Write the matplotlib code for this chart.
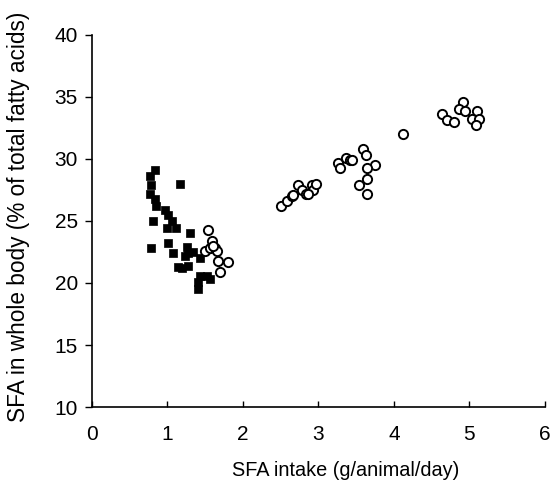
import matplotlib
matplotlib.use("Agg")
import matplotlib.pyplot as plt

plt.rcParams['font.family'] = ['Liberation Sans', 'DejaVu Sans']

# Filled squares (low intake group)
sq_x = [0.84, 0.77, 0.79, 0.77, 0.84, 1.17, 0.97, 1.01, 1.06, 1.12, 0.99, 0.81,
        1.30, 1.01, 1.08, 0.78, 1.26, 1.27, 1.34, 1.23, 1.43, 1.14, 1.27, 1.43,
        1.52, 1.41, 1.41, 1.56, 0.85, 1.20]
sq_y = [29.1, 28.6, 27.9, 27.2, 26.8, 28.0, 25.9, 25.5, 25.0, 24.4, 24.4, 25.0,
        24.0, 23.2, 22.4, 22.8, 22.9, 22.4, 22.5, 22.2, 22.0, 21.3, 21.4, 20.6,
        20.6, 20.1, 19.5, 20.3, 26.2, 21.2]

# Open circles
ci_x = [1.54, 1.59, 1.50, 1.56, 1.63, 1.66, 1.67, 1.80, 1.70, 1.61,
        2.51, 2.58, 2.65, 2.73, 2.78, 2.83, 2.91, 2.93, 2.97, 2.67, 2.86,
        3.26, 3.28, 3.36, 3.42, 3.45, 3.59, 3.63, 3.75, 3.65, 3.65, 3.54, 3.65,
        4.12, 4.63, 4.70, 4.80, 4.91, 4.86, 4.94, 5.10, 5.04, 5.12, 5.09]
ci_y = [24.3, 23.4, 22.6, 22.8, 22.8, 22.6, 21.8, 21.7, 20.9, 23.0,
        26.2, 26.6, 27.0, 27.9, 27.5, 27.2, 27.9, 27.5, 28.0, 27.1, 27.2,
        29.7, 29.3, 30.1, 29.9, 29.9, 30.8, 30.3, 29.5, 29.3, 28.4, 27.9, 27.2,
        32.0, 33.6, 33.1, 33.0, 34.6, 34.0, 33.9, 33.9, 33.2, 33.2, 32.7]

x_ticks = [0, 1, 2, 3, 4, 5, 6]
y_ticks = [10, 15, 20, 25, 30, 35, 40]

fig = plt.figure(figsize=(5.53, 4.91), dpi=100)
ax = fig.add_axes([0.166, 0.171, 0.8195, 0.758])

ax.scatter(sq_x, sq_y, marker='s', s=40, c='black', edgecolors='black', linewidths=0.5, zorder=3)
ax.scatter(ci_x, ci_y, marker='o', s=44, facecolors='white', edgecolors='black', linewidths=1.4, zorder=4)

ax.set_xlim(0, 6)
ax.set_ylim(10, 40)
ax.set_xticks(x_ticks)
ax.set_yticks(y_ticks)
ax.spines['top'].set_visible(False)
ax.spines['right'].set_visible(False)
for s in ['left', 'bottom']:
    ax.spines[s].set_linewidth(1.2)
ax.tick_params(axis='x', direction='in', length=4, width=1, labelsize=15, pad=13)
ax.tick_params(axis='y', direction='out', length=5, width=1, labelsize=15, pad=5)

ax.set_xlabel('SFA intake (g/animal/day)', fontsize=14.3)
ax.xaxis.set_label_coords(0.561, -0.145)
ax.set_ylabel('SFA in whole body (% of total fatty acids)', fontsize=16.3)
ax.yaxis.set_label_coords(-0.136, 0.51)

fig.savefig('out.png', dpi=100, facecolor='white')
